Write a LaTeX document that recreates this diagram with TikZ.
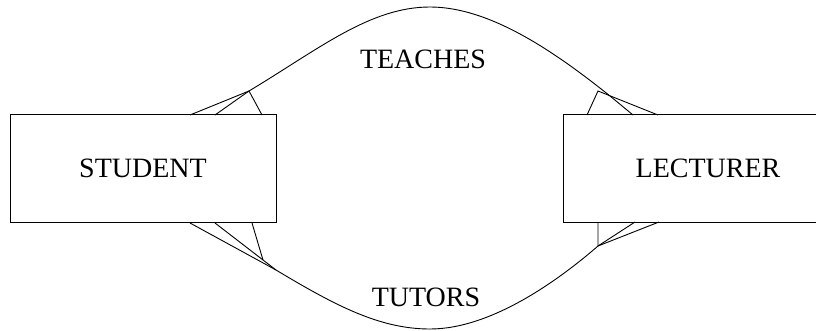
\documentclass[tikz,border=0pt]{standalone}
\usepackage{fontspec}
\setmainfont{Liberation Serif}
\begin{document}
\begin{tikzpicture}[x=1pt,y=-1pt, line width=0.9pt,
  entity/.style={draw, rectangle, inner sep=0pt, font=\fontsize{28}{32}\selectfont},
  rel/.style={font=\fontsize{28}{32}\selectfont, inner sep=0pt}]
\useasboundingbox (0,0) rectangle (816,331);
\clip (0,0) rectangle (816,331);
\node[entity, minimum width=266pt, minimum height=108pt] (student) at (143,168.5) {STUDENT};
\node[entity, minimum width=290pt, minimum height=108pt] (lecturer) at (708,168.5) {LECTURER};
\node[rel] (teaches) at (423,59) {TEACHES};
\node[rel] (tutors) at (426,297) {TUTORS};
% top relationship curve
\coordinate (t0) at (190,115);
\coordinate (ta) at (249,91);
\coordinate (tp) at (430,7);
\coordinate (tc) at (610,96);
\coordinate (tb) at (598,91);
\coordinate (t1) at (633,115);
\draw (t0) -- (ta) .. controls (319,49) and (370,7) .. (tp)
      .. controls (490,7) and (555,52) .. (tc) -- (t1);
\draw (ta) -- (215,115);
\draw (ta) -- (262,115);
\draw (587,115) -- (tb) -- (658,115);
% bottom relationship curve
\coordinate (b0) at (190,223);
\coordinate (ba) at (276,270);
\coordinate (bp) at (430,329);
\coordinate (bb) at (598,246);
\coordinate (b1) at (635,222);
\draw (b0) -- (ba) .. controls (336,306) and (380,329) .. (bp)
      .. controls (492,329) and (560,279) .. (bb) -- (b1);
\draw (215,223) -- (ba);
\draw (252,223) -- (263,260);
\draw (598,222) -- (bb) -- (659,222);
\end{tikzpicture}
\end{document}
